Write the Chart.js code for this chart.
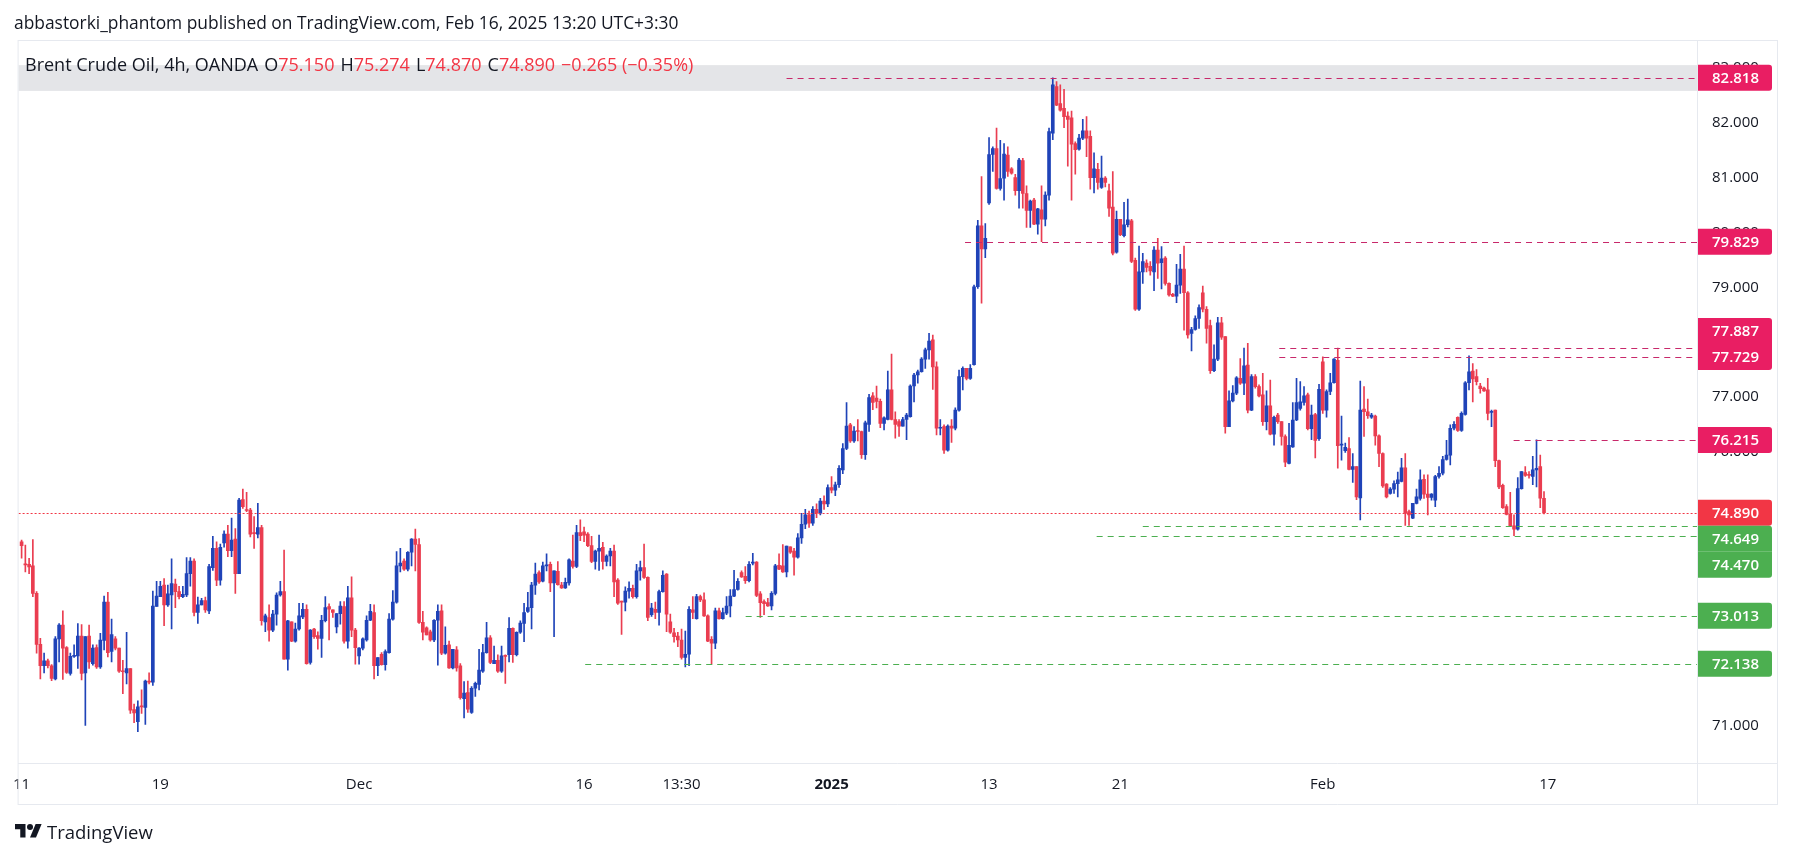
<!DOCTYPE html>
<html>
<head>
<meta charset="utf-8">
<script src="https://cdn.jsdelivr.net/npm/chart.js@4.4.1/dist/chart.umd.min.js"></script>
<style>
  html, body { margin: 0; padding: 0; background: #fff; }
  body { width: 1793px; height: 858px; position: relative; overflow: hidden;
         font-family: "Open Sans", sans-serif; color: #131722; }
  #chart { position: absolute; left: 0; top: 0; }
  #hdr { position: absolute; left: 14px; top: 10px; font-size: 17.4px; line-height: 24px; white-space: nowrap; }
  #legend { position: absolute; left: 25px; top: 52px; font-size: 18px; line-height: 24px; white-space: nowrap; }
  #legend .v { color: #f23645; }
  #legend .g { margin-left: 6px; }
  #logo { position: absolute; left: 15px; top: 820px; height: 22px; display: flex; align-items: center; }
  #logo span { font-size: 18.5px; margin-left: 5px; }
</style>
</head>
<body>
<canvas id="chart" width="1793" height="858"></canvas>
<div id="hdr">abbastorki_phantom published on TradingView.com, Feb 16, 2025 13:20 UTC+3:30</div>
<div id="legend"></div>
<div id="logo">
  <svg width="27" height="21" viewBox="0 0 36 28"><path d="M14 22H7V11H0V4h14v18z" fill="#131722"/><path d="M28 22h-8l7.5-18h8L28 22z" fill="#131722"/><circle cx="20" cy="8" r="4" fill="#131722"/></svg>
  <span>TradingView</span>
</div>
<script>
// Brent Crude Oil, 4h candles, Nov 11 2024 - Feb 14 2025
const opens = [
  74.36,73.95,73.95,73.92,73.42,72.49,72.10,72.19,72.10,71.86,
  72.59,72.84,72.43,71.96,72.27,72.28,72.64,71.97,72.64,72.14,
  72.43,72.08,72.56,73.26,72.36,72.59,72.42,72.00,71.97,72.05,
  71.30,71.08,71.36,71.34,71.82,71.80,73.18,73.36,73.57,73.21,
  73.39,73.59,73.45,73.36,73.39,73.78,74.01,73.07,73.21,73.29,
  73.10,73.89,74.24,73.66,74.34,74.50,74.20,74.41,73.78,75.13,
  74.94,74.94,74.53,74.50,74.62,72.90,72.98,72.75,73.04,73.39,
  73.45,72.22,72.90,72.55,72.77,72.99,73.13,72.16,72.77,72.65,
  72.60,72.92,73.18,73.12,72.81,73.05,73.18,72.55,73.34,72.75,
  72.28,72.42,72.57,72.93,73.07,72.10,72.31,72.12,72.34,72.95,
  73.26,73.92,74.01,73.86,74.17,74.41,74.31,72.89,72.79,72.72,
  72.57,72.93,73.10,72.33,72.48,72.06,72.39,72.10,71.50,71.61,
  71.25,71.69,71.76,72.00,72.34,72.61,72.14,72.20,72.00,72.28,
  72.30,72.78,72.30,72.71,72.87,73.09,73.16,73.57,73.80,73.64,
  73.92,73.95,73.61,73.82,73.57,73.52,73.61,74.01,73.91,74.53,
  74.54,74.50,74.29,74.00,74.19,74.26,74.00,74.10,74.19,73.66,
  73.27,73.26,73.46,73.51,73.36,73.83,73.89,73.71,73.03,73.13,
  73.07,73.45,73.77,72.90,72.70,72.64,72.57,72.25,72.31,73.12,
  72.96,73.36,73.30,73.01,72.58,72.51,73.10,72.96,73.06,73.19,
  73.37,73.49,73.80,73.73,73.65,73.97,73.99,73.41,73.27,73.25,
  73.19,73.42,73.93,73.92,73.81,74.27,74.19,74.08,74.43,74.68,
  74.85,74.70,74.95,74.88,75.10,75.05,75.35,75.30,75.40,75.67,
  76.06,76.49,76.20,76.38,76.37,75.95,76.50,77.02,76.98,76.92,
  76.52,76.59,77.13,76.59,76.55,76.47,76.59,76.64,77.20,77.40,
  77.46,77.69,77.86,78.04,77.55,76.43,76.46,76.03,76.47,76.43,
  76.76,77.37,77.52,77.34,77.59,79.01,80.12,79.70,80.54,81.42,
  81.53,80.80,80.99,81.41,81.16,81.00,80.76,81.31,80.71,80.40,
  80.59,80.15,80.41,80.24,80.68,81.81,82.66,82.35,82.26,82.12,
  82.09,81.62,81.52,81.72,81.85,81.75,81.00,81.15,80.82,80.99,
  80.76,80.46,79.64,80.24,79.94,80.14,80.21,79.49,78.60,79.28,
  79.44,79.38,79.28,79.68,79.45,79.53,79.07,78.87,78.84,79.04,
  79.33,78.90,78.16,78.23,78.43,78.90,78.60,78.30,77.48,77.69,
  78.35,78.10,76.46,76.93,77.07,77.34,77.25,77.58,76.76,77.37,
  77.19,77.04,76.55,76.84,76.32,76.67,76.55,76.28,75.79,76.09,
  76.58,76.79,76.90,77.04,76.42,76.68,76.24,77.64,76.76,77.10,
  77.26,77.67,76.12,76.02,76.06,75.68,75.73,75.16,76.78,76.73,
  76.63,76.65,76.29,75.97,75.41,75.24,75.32,75.42,75.46,75.71,
  74.91,74.79,75.06,75.15,75.50,75.23,75.17,75.12,75.55,75.61,
  75.86,75.94,76.43,76.63,76.39,76.68,77.26,77.47,77.37,77.20,
  77.16,77.13,76.72,76.76,75.84,75.39,75.00,74.86,74.65,74.59,
  75.33,75.62,75.59,75.55,75.67,75.73,75.15
];
const highs = [
  74.39,74.30,74.06,74.40,73.45,72.60,72.33,72.22,72.12,72.63,
  72.87,73.10,72.45,72.33,72.48,72.87,72.85,72.63,72.84,72.48,
  72.48,72.69,73.37,73.44,72.95,72.63,72.42,72.20,72.71,72.05,
  71.40,71.46,71.66,71.84,71.97,73.46,73.64,73.64,73.69,73.57,
  74.05,73.68,73.55,73.55,74.07,74.07,74.05,73.35,73.33,73.35,
  73.95,74.46,74.36,74.32,74.56,74.66,74.79,74.60,75.15,75.32,
  75.26,74.97,74.82,75.06,74.66,73.04,73.21,73.11,73.43,73.64,
  74.21,72.93,72.90,72.88,73.24,73.24,73.21,72.76,72.78,72.72,
  73.02,73.36,73.23,73.12,73.05,73.27,73.27,73.55,73.72,72.78,
  72.43,72.61,73.01,73.22,73.21,72.25,72.34,72.39,73.05,73.47,
  74.18,74.24,74.05,74.18,74.42,74.59,74.42,73.09,72.81,72.75,
  72.94,73.21,73.21,72.81,72.55,72.40,72.45,72.14,71.81,71.82,
  71.72,71.80,72.40,72.49,72.89,72.65,72.46,72.30,72.46,72.30,
  72.98,72.79,72.72,72.92,73.24,73.44,73.62,73.97,73.83,73.99,
  74.14,73.99,73.83,74.00,73.62,73.70,74.05,74.48,74.66,74.76,
  74.63,74.53,74.46,74.21,74.48,74.35,74.12,74.24,74.30,73.69,
  73.28,73.54,73.63,73.57,73.95,74.01,74.32,73.72,73.24,73.26,
  73.48,73.83,73.78,73.04,72.78,72.71,72.77,72.73,73.18,73.36,
  73.40,73.39,73.43,73.03,72.63,73.15,73.15,73.15,73.36,73.49,
  73.84,73.69,73.83,73.91,74.00,74.15,74.00,73.45,73.30,73.33,
  73.45,73.95,74.14,74.31,74.28,74.27,74.24,74.51,74.88,74.95,
  74.92,75.00,75.05,75.15,75.20,75.40,75.55,75.45,75.75,76.15,
  76.90,76.52,76.46,76.59,76.38,76.56,77.05,77.08,77.20,76.96,
  76.64,77.47,77.78,76.73,76.59,76.63,76.70,77.22,77.43,77.49,
  77.72,77.89,78.16,78.13,77.64,76.59,76.49,76.49,76.59,76.80,
  77.49,77.55,77.52,77.59,79.04,80.22,81.02,80.16,81.73,81.56,
  81.90,81.68,81.62,81.56,81.18,81.06,81.35,81.35,80.85,80.59,
  80.62,80.44,80.85,80.74,81.90,82.818,82.75,82.69,82.61,82.20,
  82.21,81.65,81.79,82.06,82.11,81.85,81.45,81.26,81.39,81.02,
  80.88,81.11,80.39,80.24,80.55,80.61,80.24,79.53,79.75,79.62,
  79.50,79.47,79.74,79.89,79.74,79.56,79.08,78.89,79.42,79.60,
  79.75,78.92,78.27,78.48,78.68,79.02,78.65,78.40,77.95,78.45,
  78.45,78.10,77.11,77.21,77.37,77.70,77.89,77.98,77.41,77.41,
  77.22,77.43,77.11,77.31,76.65,76.70,76.55,76.31,76.52,76.90,
  77.34,77.28,77.19,77.07,76.85,76.70,77.23,77.73,77.13,77.43,
  77.70,77.89,76.65,76.16,76.26,75.97,75.73,77.29,77.19,76.96,
  76.70,76.67,76.31,75.98,75.42,75.35,75.47,75.63,75.88,75.97,
  74.94,75.06,75.32,75.67,75.58,75.58,75.24,75.57,75.73,75.92,
  76.21,76.49,76.55,76.64,76.73,77.28,77.75,77.61,77.50,77.25,
  77.18,77.34,76.76,76.76,75.85,75.41,75.04,75.26,74.85,75.53,
  75.64,75.73,75.64,75.92,76.22,75.94,75.274
];
const lows = [
  74.06,73.81,73.78,73.36,72.33,71.86,71.97,72.06,71.83,71.84,
  72.17,71.85,71.96,71.93,72.25,72.05,71.84,71.01,72.05,72.11,
  72.05,72.05,72.39,72.26,72.17,72.39,71.98,71.59,71.77,71.23,
  71.06,70.90,71.23,71.03,71.77,71.74,73.18,73.36,72.83,73.18,
  72.77,73.16,73.32,73.34,73.36,73.55,73.01,72.87,73.21,73.07,
  73.05,73.84,73.56,73.57,74.26,74.09,74.09,73.42,73.78,74.97,
  74.91,74.45,74.24,74.43,72.84,72.72,72.55,72.72,72.84,73.37,
  72.22,72.02,72.54,72.53,72.75,72.96,72.13,72.13,72.60,72.40,
  72.25,72.90,72.57,72.98,72.70,72.86,72.51,72.42,72.63,72.13,
  72.13,72.39,72.55,72.92,71.86,71.92,72.11,72.02,72.33,72.93,
  73.24,73.81,73.84,73.83,73.92,73.83,72.87,72.57,72.66,72.55,
  72.54,72.11,72.30,72.31,72.05,72.04,72.00,71.49,71.15,71.25,
  71.23,71.54,71.66,71.98,72.33,72.14,72.14,71.98,71.98,71.78,
  72.17,72.16,72.28,72.69,72.54,73.07,72.77,73.40,73.60,73.63,
  73.83,73.45,72.63,73.57,73.51,73.51,73.57,73.88,73.89,74.38,
  74.36,74.27,73.98,73.86,73.84,73.86,73.92,73.92,73.36,73.22,
  72.67,73.10,73.33,73.33,73.33,73.66,73.69,72.92,73.00,72.96,
  72.84,73.44,72.72,72.69,72.53,72.45,72.22,72.08,72.10,72.96,
  72.95,73.27,73.00,72.54,72.13,72.41,72.95,72.95,73.03,72.99,
  73.36,73.48,73.71,73.60,73.63,73.94,73.36,72.98,73.03,73.18,
  73.12,73.39,73.85,73.80,73.72,74.15,73.75,74.06,74.33,74.60,
  74.62,74.66,74.80,74.85,74.95,75.00,75.25,75.20,75.35,75.60,
  76.04,76.17,76.17,76.20,75.88,75.86,76.37,76.77,76.80,76.44,
  76.40,76.58,76.58,76.25,76.28,76.47,76.22,76.63,76.91,77.25,
  77.45,77.52,77.69,77.14,76.31,76.31,75.97,76.01,76.17,76.40,
  76.74,77.13,77.31,77.32,77.58,78.98,78.71,79.54,80.51,81.11,
  80.79,80.77,80.59,81.02,81.06,80.68,80.44,80.44,80.09,80.09,
  80.14,79.97,79.83,80.12,80.59,81.69,82.31,82.21,81.91,81.21,
  80.59,81.06,81.50,81.69,81.38,80.79,80.72,80.79,80.80,80.83,
  80.29,79.59,79.62,79.94,79.92,80.10,79.45,78.58,78.58,79.07,
  79.28,79.22,78.94,79.16,78.97,79.04,78.84,78.83,78.72,78.89,
  78.22,78.07,77.84,78.22,78.25,78.55,77.98,77.43,77.46,77.66,
  78.05,76.34,76.46,76.91,77.04,77.23,77.04,76.71,76.75,77.16,
  77.00,76.48,76.40,76.31,76.12,76.52,76.12,75.73,75.78,76.08,
  76.57,76.76,76.85,76.40,76.22,75.89,76.21,76.70,76.63,77.04,
  77.25,75.70,75.85,75.99,75.67,75.44,75.13,74.76,76.28,76.61,
  76.61,76.12,75.73,75.35,75.16,75.23,75.24,75.18,75.45,74.66,
  74.66,74.78,75.05,75.12,75.15,74.85,75.12,75.00,75.52,75.58,
  75.85,75.76,76.40,76.37,76.37,76.67,77.13,76.91,77.22,77.07,
  77.10,76.58,76.46,75.73,75.33,74.97,74.85,74.65,74.47,74.57,
  75.32,75.55,75.52,75.40,75.36,74.98,74.87
];
const closes = [
  74.29,73.94,73.90,73.42,72.49,72.10,72.19,72.10,71.87,72.59,
  72.84,72.42,71.98,72.27,72.28,72.64,71.96,72.63,72.17,72.42,
  72.08,72.57,73.26,72.34,72.67,72.42,72.00,71.99,72.05,71.29,
  71.24,71.35,71.35,71.82,71.80,73.19,73.37,73.55,73.21,73.41,
  73.60,73.45,73.36,73.40,73.78,74.01,73.07,73.21,73.29,73.12,
  73.91,74.24,73.66,74.26,74.50,74.20,74.39,73.78,75.12,75.00,
  74.93,74.50,74.51,74.62,72.92,73.01,72.75,73.04,73.39,73.45,
  72.22,72.92,72.55,72.77,73.01,73.13,72.14,72.75,72.63,72.60,
  72.93,73.16,73.13,73.07,73.05,73.19,72.55,73.34,72.75,72.43,
  72.42,72.59,72.93,73.09,72.10,72.25,72.12,72.36,72.95,73.26,
  73.92,73.97,73.86,74.17,74.41,74.31,72.89,72.71,72.66,72.57,
  72.93,73.09,72.33,72.47,72.06,72.40,72.06,71.52,71.60,71.31,
  71.69,71.78,72.02,72.34,72.61,72.16,72.20,72.00,72.28,72.27,
  72.78,72.30,72.71,72.88,73.07,73.16,73.57,73.77,73.63,73.92,
  73.94,73.61,73.83,73.58,73.52,73.62,74.03,73.91,74.53,74.47,
  74.48,74.29,74.00,74.19,74.24,74.00,74.10,74.19,73.63,73.24,
  73.26,73.46,73.51,73.36,73.83,73.89,73.71,72.98,73.15,73.07,
  73.45,73.75,73.04,72.71,72.63,72.57,72.25,72.31,73.13,73.07,
  73.36,73.30,73.01,72.55,72.51,73.10,72.96,73.07,73.19,73.37,
  73.49,73.64,73.72,73.65,73.95,73.99,73.38,73.25,73.23,73.19,
  73.42,73.92,73.86,73.81,74.28,74.17,74.08,74.43,74.68,74.85,
  74.70,74.95,74.88,75.10,75.05,75.35,75.30,75.40,75.70,76.06,
  76.47,76.20,76.38,76.37,75.95,76.53,76.99,76.90,76.92,76.52,
  76.62,77.13,76.59,76.50,76.47,76.59,76.67,77.20,77.40,77.46,
  77.69,77.86,78.02,77.55,76.43,76.44,76.03,76.47,76.43,76.76,
  77.37,77.52,77.34,77.52,79.01,80.12,79.70,79.89,81.42,81.53,
  80.80,80.98,81.43,81.11,81.08,80.76,81.32,80.71,80.40,80.57,
  80.15,80.43,80.24,80.68,81.84,82.69,82.32,82.23,82.11,82.06,
  81.61,81.51,81.72,81.85,81.72,81.00,81.16,80.91,80.99,80.91,
  80.44,79.62,80.24,79.96,80.14,80.23,79.47,78.60,79.28,79.47,
  79.36,79.30,79.68,79.44,79.52,79.07,78.86,78.84,79.04,79.33,
  78.90,78.13,78.23,78.43,78.63,78.60,78.25,77.48,77.69,78.35,
  78.09,76.46,76.93,77.07,77.35,77.25,77.57,76.76,77.37,77.19,
  77.02,76.55,76.84,76.32,76.63,76.55,76.28,75.81,76.12,76.58,
  76.90,76.91,77.02,76.42,76.67,76.21,77.14,76.76,77.10,77.26,
  77.69,76.11,76.14,76.08,75.68,75.73,75.18,76.76,76.73,76.66,
  76.67,76.29,75.97,75.38,75.18,75.32,75.42,75.49,75.71,74.88,
  74.85,75.06,75.18,75.49,75.23,75.17,75.23,75.55,75.61,75.86,
  75.94,76.43,76.50,76.39,76.70,77.26,77.46,77.33,77.28,77.15,
  77.11,76.70,76.74,75.84,75.36,74.98,74.86,74.65,74.59,75.33,
  75.64,75.57,75.57,75.67,75.70,75.155,74.89
];

// time axis labels (bar index where each label sits)
const timeTickIdx = [0, 37, 90, 150, 176, 216, 258, 293, 347, 407];
const timeTickLabels = ['11', '19', 'Dec', '16', '13:30', '2025', '13', '21', 'Feb', '17'];
const priceTicks = [71, 72, 73, 74, 75, 76, 77, 78, 79, 80, 81, 82, 83];

// horizontal levels drawn on the chart
const levelPrices = [82.818, 79.829, 77.887, 77.729, 76.215, 74.649, 74.470, 73.013, 72.138];
const levelStart = [204, 251.6, 335.4, 335.4, 397.9, 299, 286.7, 193.1, 150.3];
const levelKind = ['res', 'res', 'res', 'res', 'res', 'sup', 'sup', 'sup', 'sup'];
const zoneRange = [82.58, 83.05];

const BLUE = '#1f43b8';
const RED = '#ea3d50';
const PINK = '#e91e63';
const LINE_PINK = '#c8286a';
const GREEN = '#4caf50';
const CUR_RED = '#f23645';
const FRAME = '#e6e9ef';
const FONT = "'Open Sans', sans-serif";

const n = closes.length;
const lastClose = closes[n - 1];
const prevClose = closes[n - 2];

// legend line
(function () {
  const chg = lastClose - prevClose;
  const pct = chg / prevClose * 100;
  const m = v => (v < 0 ? '\u2212' : '') + Math.abs(v).toFixed(3);
  const el = document.getElementById('legend');
  el.innerHTML = 'Brent Crude Oil, 4h, OANDA' +
    '<span class="g">O<span class="v">' + opens[n - 1].toFixed(3) + '</span></span>' +
    '<span class="g">H<span class="v">' + highs[n - 1].toFixed(3) + '</span></span>' +
    '<span class="g">L<span class="v">' + lows[n - 1].toFixed(3) + '</span></span>' +
    '<span class="g">C<span class="v">' + lastClose.toFixed(3) + '</span></span>' +
    '<span class="g v">' + m(chg) + ' (' + (pct < 0 ? '\u2212' : '') + Math.abs(pct).toFixed(2) + '%)</span>';
})();

const candleColors = opens.map((o, i) => closes[i] >= o ? BLUE : RED);

const overlay = {
  id: 'overlay',
  beforeDatasetsDraw(chart) {
    const { ctx, chartArea: a, scales: { y } } = chart;
    const t = y.getPixelForValue(zoneRange[1]);
    const b = y.getPixelForValue(zoneRange[0]);
    ctx.save();
    ctx.fillStyle = '#e4e5e8';
    ctx.fillRect(a.left, t, a.right - a.left, b - t);
    ctx.restore();
  },
  afterDatasetsDraw(chart) {
    const { ctx, chartArea: a, scales: { x, y } } = chart;
    ctx.save();
    ctx.lineWidth = 1;
    levelPrices.forEach((p, i) => {
      const py = Math.round(y.getPixelForValue(p)) + 0.5;
      ctx.strokeStyle = levelKind[i] === 'res' ? LINE_PINK : GREEN;
      ctx.setLineDash([6, 5]);
      ctx.beginPath();
      ctx.moveTo(x.getPixelForValue(levelStart[i]), py);
      ctx.lineTo(a.right, py);
      ctx.stroke();
    });
    // last price line
    const cy = Math.round(y.getPixelForValue(lastClose)) + 0.5;
    ctx.strokeStyle = CUR_RED;
    ctx.setLineDash([2, 2]);
    ctx.beginPath();
    ctx.moveTo(a.left, cy);
    ctx.lineTo(a.right, cy);
    ctx.stroke();
    ctx.restore();
  },
  afterDraw(chart) {
    const { ctx, chartArea: a, scales: { y } } = chart;
    const right = y.right;
    const bottom = chart.scales.x.bottom;
    ctx.save();
    // frame
    ctx.strokeStyle = FRAME;
    ctx.lineWidth = 1;
    ctx.beginPath();
    ctx.moveTo(a.left - 0.5, a.top + 0.5); ctx.lineTo(right - 0.5, a.top + 0.5);
    ctx.moveTo(a.left - 0.5, a.top); ctx.lineTo(a.left - 0.5, bottom);
    ctx.moveTo(right - 0.5, a.top); ctx.lineTo(right - 0.5, bottom);
    ctx.moveTo(a.left - 0.5, bottom - 0.5); ctx.lineTo(right - 0.5, bottom - 0.5);
    ctx.moveTo(a.right + 0.5, a.top); ctx.lineTo(a.right + 0.5, bottom);
    ctx.moveTo(a.left - 0.5, a.bottom + 0.5); ctx.lineTo(right - 0.5, a.bottom + 0.5);
    ctx.stroke();

    // price badges
    const H = 26;
    const cur = { price: lastClose, y: y.getPixelForValue(lastClose), color: CUR_RED };
    const tags = levelPrices.map((p, i) => ({
      price: p, y: y.getPixelForValue(p), color: levelKind[i] === 'res' ? PINK : GREEN
    }));
    const above = tags.filter(t => t.price > lastClose).sort((p, q) => q.y - p.y);
    let lim = cur.y - H;
    above.forEach(t => { if (t.y > lim) t.y = lim; lim = t.y - H; });
    const below = tags.filter(t => t.price <= lastClose).sort((p, q) => p.y - q.y);
    lim = cur.y + H;
    below.forEach(t => { if (t.y < lim) t.y = lim; lim = t.y + H; });
    const all = above.concat(below, [cur]).sort((p, q) => p.y - q.y);
    const bx = a.right + 1, bw = 74;
    all.forEach((t, i) => {
      const prev = all[i - 1], next = all[i + 1];
      const joinTop = prev && prev.color === t.color && Math.abs(t.y - prev.y - H) < 1;
      const joinBot = next && next.color === t.color && Math.abs(next.y - t.y - H) < 1;
      ctx.fillStyle = t.color;
      ctx.beginPath();
      ctx.roundRect(bx, t.y - H / 2, bw, H, [0, joinTop ? 0 : 3, joinBot ? 0 : 3, 0]);
      ctx.fill();
    });
    ctx.fillStyle = '#ffffff';
    ctx.font = '600 15px ' + FONT;
    ctx.textBaseline = 'middle';
    ctx.textAlign = 'left';
    all.forEach(t => ctx.fillText(t.price.toFixed(3), a.right + 15, t.y + 1));
    ctx.restore();
  }
};

Chart.defaults.font.family = FONT;

new Chart(document.getElementById('chart'), {
  type: 'bar',
  data: {
    datasets: [
      {
        label: 'wick',
        data: opens.map((o, i) => ({ x: i, y: [lows[i], highs[i]] })),
        backgroundColor: candleColors,
        barThickness: 1,
        grouped: false,
        order: 1
      },
      {
        label: 'body',
        data: opens.map((o, i) => ({ x: i, y: [o, closes[i]] })),
        backgroundColor: candleColors,
        barThickness: 3,
        minBarLength: 1,
        grouped: false,
        order: 0
      }
    ]
  },
  options: {
    responsive: false,
    animation: false,
    layout: { padding: { left: 14, top: 40, right: 15, bottom: 53 } },
    plugins: { legend: { display: false }, tooltip: { enabled: false } },
    scales: {
      x: {
        type: 'linear',
        min: -0.8,
        max: 446.8,
        offset: false,
        grid: { display: false, drawTicks: false },
        border: { display: false },
        afterBuildTicks: s => { s.ticks = timeTickIdx.map(v => ({ value: v })); },
        afterFit: s => { s.height = 42; },
        ticks: {
          autoSkip: false,
          maxRotation: 0,
          padding: 13,
          color: '#131722',
          callback: (v, i) => timeTickLabels[i],
          font: c => ({ family: FONT, size: 15, weight: timeTickLabels[c.index] === '2025' ? 'bold' : 'normal' })
        }
      },
      y: {
        position: 'right',
        min: 70.327,
        max: 83.508,
        beginAtZero: false,
        grid: { display: false, drawTicks: false },
        border: { display: false },
        afterBuildTicks: s => { s.ticks = priceTicks.map(v => ({ value: v })); },
        afterFit: s => { s.width = 81; },
        ticks: {
          crossAlign: 'near',
          padding: 15,
          color: '#131722',
          font: { family: FONT, size: 15 },
          callback: v => v.toFixed(3)
        }
      }
    }
  },
  plugins: [overlay]
});
</script>
</body>
</html>
